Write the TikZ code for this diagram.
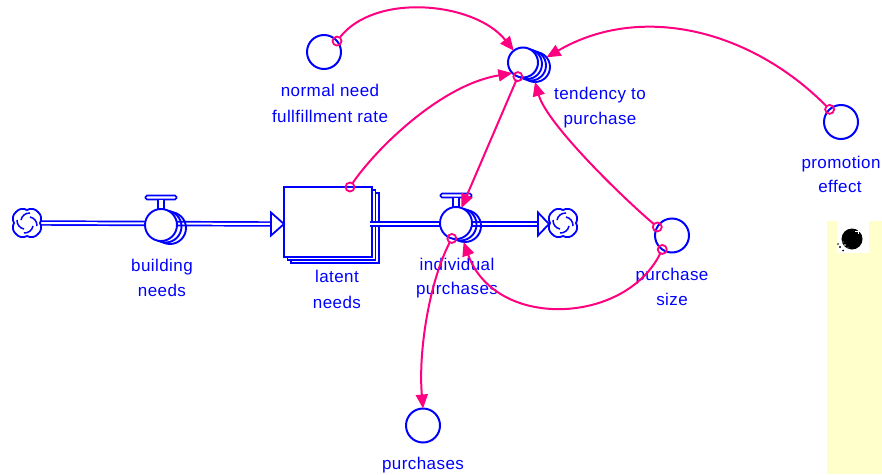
\documentclass[tikz,border=0pt]{standalone}
\usepackage{fontspec}
\setmainfont{Liberation Sans}[LetterSpace=2.5]
\usetikzlibrary{arrows.meta,calc}

\definecolor{vblue}{RGB}{0,0,255}
\definecolor{vpink}{RGB}{255,0,128}
\definecolor{panel}{RGB}{255,255,204}

% flow valve: name, x, y  (T handle, main circle, two stacked copies)
\newcommand\flowvalve[3]{%
  \draw[vline, fill=white, rounded corners=1.5pt] (#2-15.5,#3-29.5) rectangle (#2+15.5,#3-25.5);
  \draw[vline, fill=white] (#2-3,#3-25.5) rectangle (#2+3,#3-15);
  \node[vc] (#1b2) at (#2+9,#3+3) {};
  \node[vc] (#1b1) at (#2+4.5,#3+1.5) {};
  \node[vc, fill=white] (#1) at (#2,#3) {};
}

\begin{document}
\begin{tikzpicture}[x=1pt,y=-1pt,
  every node/.style={inner sep=0pt, outer sep=0pt},
  vline/.style={draw=vblue, line width=1.7pt},
  vc/.style={circle, draw=vblue, line width=1.9pt, minimum size=32pt},
  aux/.style={circle, draw=vblue, line width=2pt, fill=white, minimum size=34pt},
  auxb/.style={circle, draw=vblue, line width=1.9pt, minimum size=30pt},
  stk/.style={rectangle, draw=vblue, line width=1.9pt, fill=white, minimum width=88pt, minimum height=70pt},
  pipe/.style={draw=vblue, line width=1.7pt, double=white, double distance=2pt},
  pipetip/.style={draw=vblue, line width=1.8pt, fill=white, line join=miter},
  srcnode/.style={minimum width=28pt, minimum height=30pt},
  conn/.style={draw=vpink, line width=2pt, shorten <=4.5pt, -{Triangle[length=14pt,width=12pt]}},
  mk/.style={circle, draw=vpink, line width=1.8pt, minimum size=9pt},
  lab/.style={text=vblue, font=\fontsize{17}{20}\selectfont, anchor=base},
  cloudicon/.pic={
    \draw[vblue, line width=1.8pt, fill=white]
      (13,0) to[bend left=40] (11,11) to[bend left=40] (0,13) to[bend left=40] (-11,11)
      to[bend left=40] (-13,0) to[bend left=40] (-11,-11) to[bend left=40] (0,-13)
      to[bend left=40] (11,-11) to[bend left=40] cycle;
    \foreach \a in {0,90,180,270}
      \draw[vblue, line width=1.5pt, rotate=\a] (3,-10) to[bend right=40] (-6,-3);
  }
]
\useasboundingbox (0,0) rectangle (882,474);

% sources and sinks
\node[srcnode] (srcL) at (27,223) {};
\node[srcnode] (sinkR) at (563,223) {};

% inflow pipe
\draw[pipe] (srcL.east) -- (271,224);

% stock with stacked copies
\node[stk] (stk2) at (335,228) {};
\node[stk] (stk1) at (331.5,225) {};
\node[stk] (stock) at (328,222) {};

\draw[pipetip] ($(stock.west)+(-13,-9.5)$) -- ($(stock.west)+(0,2)$) -- ($(stock.west)+(-13,13.5)$) -- cycle;

% outflow pipe
\draw[pipe] ($(stock.east)+(-2,2)$) -- ($(sinkR.west)+(-11,1)$);
\draw[pipetip] ($(sinkR.west)+(-11,-10.5)$) -- ($(sinkR.west)+(0,1)$) -- ($(sinkR.west)+(-11,12.5)$) -- cycle;

\pic at (srcL) {cloudicon};
\pic at (sinkR) {cloudicon};

% valves
\flowvalve{bn}{161}{225}
\flowvalve{ip}{456}{223}

% auxiliaries
\node[aux] (norm) at (324,52) {};
\node[auxb] (tend3) at (535,67) {};
\node[auxb] (tend2) at (531,65.5) {};
\node[auxb] (tend1) at (527,64) {};
\node[aux, minimum size=30pt] (tend) at (523,62.5) {};
\node[aux] (prom) at (841,122) {};
\node[aux] (psz) at (672,235.5) {};
\node[aux] (pur) at (423,425.5) {};

% labels
\node[lab] (l1a) at (162,271) {building};
\node[lab] (l1b) at (162,296.5) {needs};
\node[lab] (l2a) at (337,282.5) {latent};
\node[lab] (l2b) at (337,308) {needs};
\node[lab] (l3a) at (457,270.5) {individual};
\node[lab] (l3b) at (457,294) {purchases};
\node[lab] (l4a) at (330,96.5) {normal need};
\node[lab] (l4b) at (330,122.5) {fullfillment rate};
\node[lab] (l5a) at (600,99) {tendency to};
\node[lab] (l5b) at (600,124) {purchase};
\node[lab] (l6a) at (841,168) {promotion};
\node[lab] (l6b) at (840,192.5) {effect};
\node[lab] (l7a) at (672,280.5) {purchase};
\node[lab] (l7b) at (672,305) {size};
\node[lab] (l8) at (423,469.5) {purchases};

% information links
\draw[conn] (norm.40) node[mk]{} .. controls (375,-8) and (475,2) .. (tend.128);
\draw[conn] ([xshift=22pt]stock.north) node[mk]{} .. controls (375,150) and (440,85) .. (tend.225);
\draw[conn] (tend.-110) node[mk]{} -- (ip.70);
\draw[conn] (prom.132) node[mk]{} .. controls (750,29) and (640,3) .. (tend3.40);
\draw[conn] (psz.150) node[mk]{} .. controls (622,197) and (547,124) .. (tend3.-90);
\draw[conn] (psz.-125) node[mk]{} .. controls (625,325) and (495,330) .. (ipb2.-95);
\draw[conn] (ip.-105) node[mk]{} .. controls (430,280) and (418,350) .. (pur.90);

% side panel with ball
\fill[panel] (827,221) rectangle (882,474);
\fill[white] (837,221) rectangle (869,253);
\fill[black] (852,239) circle (10.5);
\draw[white, line width=1pt] (855,231) -- (861,231) (858,228) -- (858,234);
\fill[white] (845,245) circle (0.8) (848,248) circle (0.7) (843,242) circle (0.6);
\fill[black] (840,247) circle (1.1) (843,250.5) circle (1) (838,244) circle (0.8);
\end{tikzpicture}
\end{document}
